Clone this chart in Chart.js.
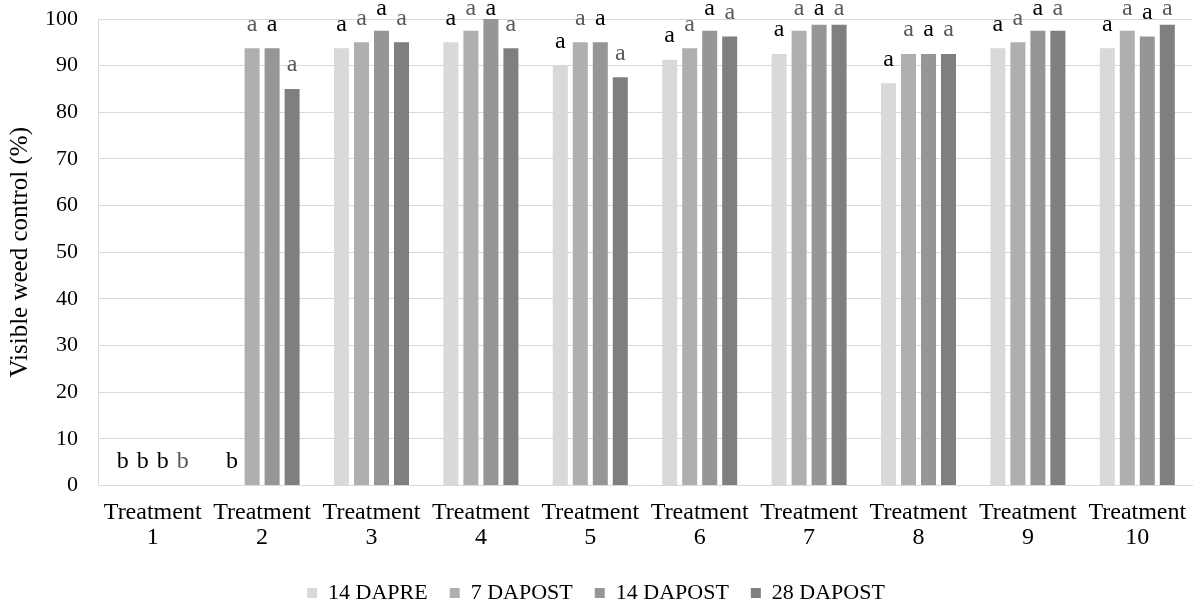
<!DOCTYPE html>
<html>
<head>
<meta charset="utf-8">
<script src="https://cdn.jsdelivr.net/npm/chart.js@4.4.1/dist/chart.umd.min.js"></script>
<style>
  html, body { margin: 0; padding: 0; background: #fff; }
  #wrap { width: 1195px; height: 607px; }
</style>
</head>
<body>
<div id="wrap"><canvas id="c" width="1195" height="607"></canvas></div>
<script>
const categories = [
  ['Treatment', '1'], ['Treatment', '2'], ['Treatment', '3'], ['Treatment', '4'], ['Treatment', '5'],
  ['Treatment', '6'], ['Treatment', '7'], ['Treatment', '8'], ['Treatment', '9'], ['Treatment', '10']
];
const seriesNames = ['14 DAPRE', '7 DAPOST', '14 DAPOST', '28 DAPOST'];
const dapre14  = [0, 0, 93.75, 95, 90, 91.25, 92.5, 86.25, 93.75, 93.75];
const dapost7  = [0, 93.75, 95, 97.5, 95, 93.75, 97.5, 92.5, 95, 97.5];
const dapost14 = [0, 93.75, 97.5, 100, 95, 97.5, 98.75, 92.5, 97.5, 96.25];
const dapost28 = [0, 85, 95, 93.75, 87.5, 96.25, 98.75, 92.5, 97.5, 98.75];
const letters14pre  = ['b', 'b', 'a', 'a', 'a', 'a', 'a', 'a', 'a', 'a'];
const letters7post  = ['b', 'a', 'a', 'a', 'a', 'a', 'a', 'a', 'a', 'a'];
const letters14post = ['b', 'a', 'a', 'a', 'a', 'a', 'a', 'a', 'a', 'a'];
const letters28post = ['b', 'a', 'a', 'a', 'a', 'a', 'a', 'a', 'a', 'a'];
const yTicks = [0, 10, 20, 30, 40, 50, 60, 70, 80, 90, 100];

const barColors = ['#d9d9d9', '#afafaf', '#969696', '#7f7f7f'];
const BLACK = '#000000', GREY = '#595959';
const letterColors = [
  Array(10).fill(BLACK),
  [BLACK].concat(Array(9).fill(GREY)),
  Array(10).fill(BLACK),
  Array(10).fill(GREY)
];
const allLetters = [letters14pre, letters7post, letters14post, letters28post];
const allValues = [dapre14, dapost7, dapost14, dapost28];
const FONT = '"Liberation Serif", "Times New Roman", serif';

const letterPlugin = {
  id: 'letters',
  afterDatasetsDraw(chart) {
    const ctx = chart.ctx;
    ctx.save();
    ctx.font = '24px ' + FONT;
    ctx.textAlign = 'center';
    ctx.textBaseline = 'alphabetic';
    chart.data.datasets.forEach((ds, i) => {
      const meta = chart.getDatasetMeta(i);
      meta.data.forEach((bar, j) => {
        const y = Math.max(bar.y - 17.5, chart.chartArea.top - 4);
        ctx.fillStyle = letterColors[i][j];
        ctx.fillText(allLetters[i][j], bar.x, y);
      });
    });
    ctx.restore();
  }
};

new Chart(document.getElementById('c'), {
  type: 'bar',
  data: {
    labels: categories,
    datasets: seriesNames.map((name, i) => ({
      label: name,
      data: allValues[i],
      backgroundColor: barColors[i],
      borderWidth: 0,
      categoryPercentage: 0.7313,
      barPercentage: 0.75
    }))
  },
  options: {
    responsive: false,
    animation: false,
    layout: { padding: { top: 19, right: 3, left: 0, bottom: -7 } },
    plugins: {
      legend: {
        position: 'bottom',
        labels: {
          font: { family: FONT, size: 22 },
          color: '#000',
          boxWidth: 10,
          boxHeight: 10,
          padding: 22
        }
      },
      tooltip: { enabled: false }
    },
    scales: {
      x: {
        grid: { display: false },
        border: { display: true, color: '#d9d9d9', width: 1 },
        ticks: {
          font: { family: FONT, size: 24, lineHeight: 1.04 },
          color: '#000',
          padding: 7,
          maxRotation: 0,
          autoSkip: false
        },
        afterFit(scale) { scale.height = 74.5; }
      },
      y: {
        min: 0,
        max: 100,
        afterBuildTicks(scale) { scale.ticks = yTicks.map(v => ({ value: v })); },
        grid: { color: '#d9d9d9', lineWidth: 1, drawTicks: false },
        border: { display: true, color: '#d9d9d9', width: 1 },
        ticks: {
          font: { family: FONT, size: 22 },
          color: '#000',
          padding: 20
        },
        title: {
          display: true,
          text: 'Visible weed control (%)',
          font: { family: FONT, size: 25 },
          color: '#000',
          padding: { top: 5, bottom: 0 }
        },
        afterFit(scale) {
          scale.width = 98;
          scale.paddingTop = 0;
          scale.paddingBottom = 0;
        }
      }
    }
  },
  plugins: [letterPlugin]
});
</script>
</body>
</html>
